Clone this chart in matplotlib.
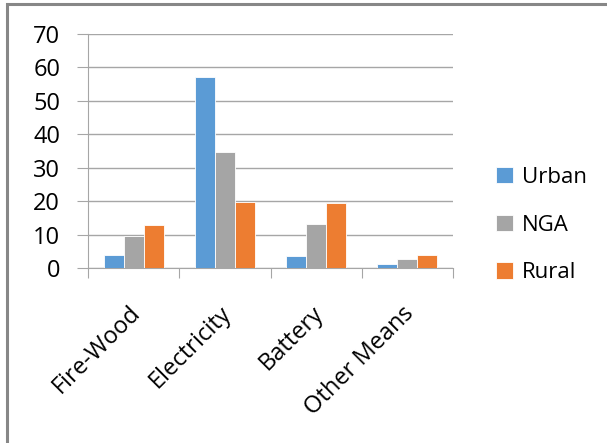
import numpy as np
import matplotlib.pyplot as plt
import matplotlib.transforms as mtransforms
from matplotlib.patches import Rectangle

categories = ['Fire-Wood', 'Electricity', 'Battery', 'Other Means']
urban = [4.0, 57.1, 3.5, 1.1]
nga = [9.5, 34.6, 13.2, 2.8]
rural = [13.0, 19.8, 19.4, 4.0]
series_names = ['Urban', 'NGA', 'Rural']
colors = ['#5b9bd5', '#a5a5a5', '#ed7d31']

plt.rcParams['font.family'] = ['Open Sans', 'DejaVu Sans']

fig = plt.figure(figsize=(6.07, 4.43), dpi=100)
ax = fig.add_axes([88 / 607, 1 - 268 / 443, (453 - 88) / 607, (268 - 34) / 443])

x = np.arange(len(categories))
w = 0.22
for i, (vals, name, c) in enumerate(zip([urban, nga, rural], series_names, colors)):
    ax.bar(x + (i - 1) * w, vals, width=w, color=c, label=name,
           edgecolor='white', linewidth=0.6, zorder=3)

ax.set_xlim(-0.5, len(categories) - 0.5)
ax.set_ylim(0, 70)
ax.set_yticks(range(0, 71, 10))
ax.yaxis.grid(True, color='#a6a6a6', linewidth=1.0, zorder=0)
ax.tick_params(axis='y', length=8, color='#a6a6a6', labelsize=17, pad=12)

# category boundaries as x ticks, labels in between
ax.set_xticks(np.arange(-0.5, len(categories)), minor=False)
ax.set_xticklabels([])
ax.set_xticks(x, minor=True)
ax.set_xticklabels(categories, minor=True, rotation=45, ha='right', va='top',
                   rotation_mode='anchor', fontsize=17)
ax.tick_params(axis='x', which='major', length=7, color='#a6a6a6')
ax.tick_params(axis='x', which='minor', length=0, pad=24)
shift = mtransforms.ScaledTranslation(-5 / 100, 0, fig.dpi_scale_trans)
for lab in ax.get_xticklabels(minor=True):
    lab.set_transform(lab.get_transform() + shift)

for s in ['top', 'right']:
    ax.spines[s].set_visible(False)
for s in ['left', 'bottom']:
    ax.spines[s].set_color('#a6a6a6')

ax.legend(loc='center left', bbox_to_anchor=(485 / 607, 1 - 225 / 443),
          bbox_transform=fig.transFigure, frameon=False, fontsize=16,
          handlelength=0.75, handleheight=0.75, handletextpad=0.4,
          labelspacing=1.2, borderpad=0)

# outer frame
fig.patches.append(Rectangle((6.5 / 607, -0.05), 1.1, 1 - 4.5 / 443 + 0.05,
                             transform=fig.transFigure, fill=False,
                             edgecolor='#878787', linewidth=2.2))

fig.savefig('out.png', dpi=100)
